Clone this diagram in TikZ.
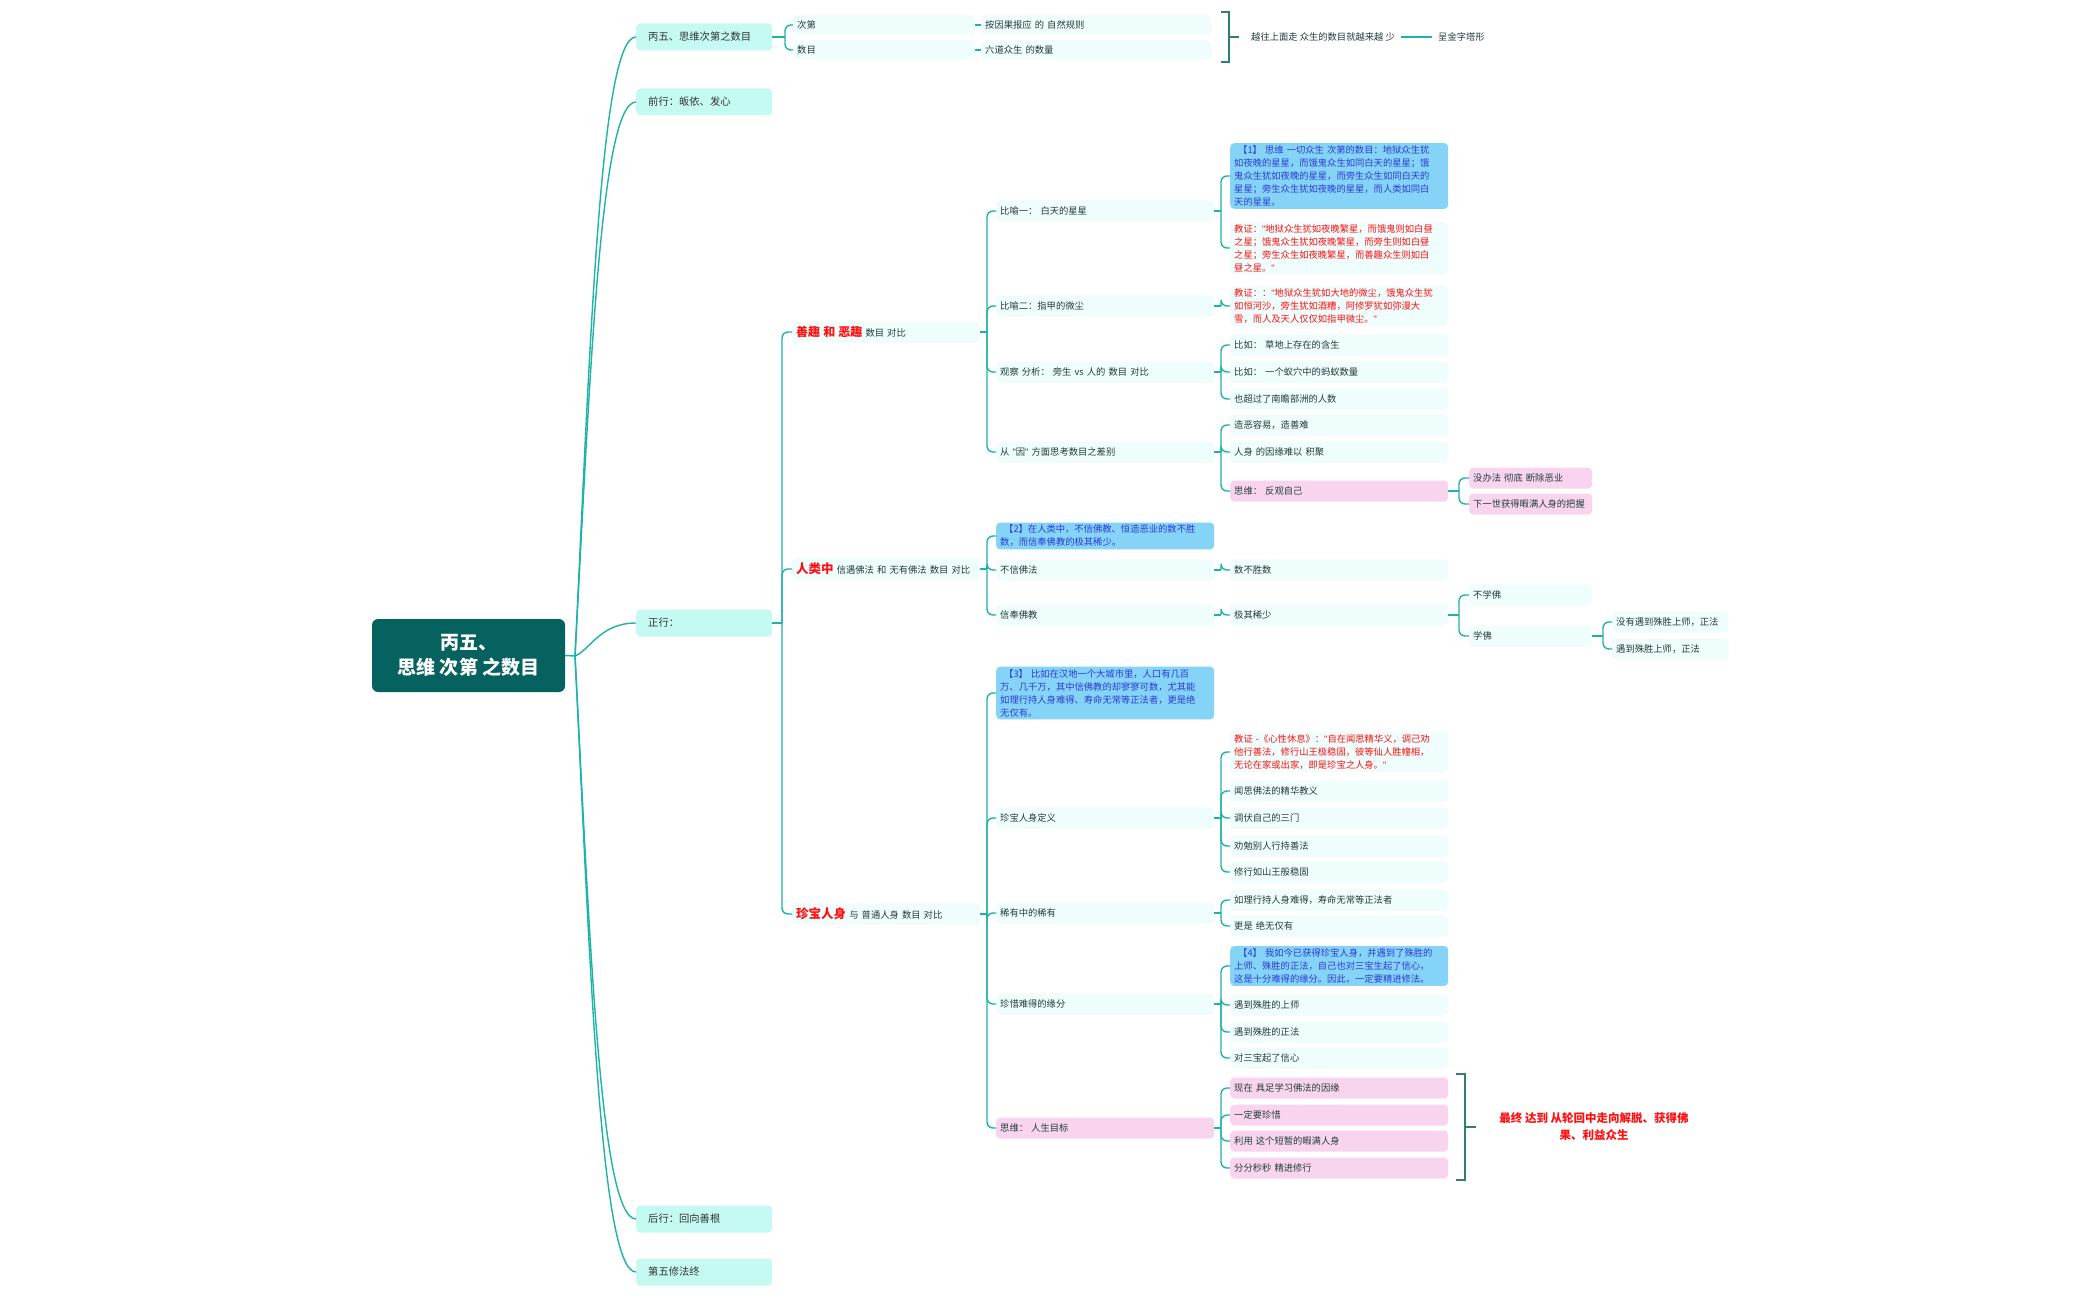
\documentclass[tikz,border=0pt]{standalone}
\usepackage{fontspec}
\setmainfont{Noto Sans CJK SC}
\newfontfamily\qf{Liberation Sans}
\usetikzlibrary{calc}
\definecolor{conn}{HTML}{1DB3A8}
\definecolor{brk}{HTML}{2F7F77}
\definecolor{rootc}{HTML}{06625E}
\definecolor{l1c}{HTML}{C5FAF3}
\definecolor{lc}{HTML}{EFFDFC}
\definecolor{bluec}{HTML}{86D3F8}
\definecolor{bluet}{HTML}{2A3BD8}
\definecolor{pinkc}{HTML}{F8D4EE}
\definecolor{txt}{HTML}{223D3B}
\definecolor{redt}{HTML}{FF1010}
\newcommand\myfs{\fontsize{9.3}{13}\selectfont}
\newcommand\nbx[1]{\mbox{#1}}
\newcommand\dq{{\qf"}}
\newcommand\redh[2][12]{{\color{redt}\bfseries\fontsize{#1}{14}\selectfont #2}}
\newcommand\kids[3]{\draw[cn,line width=1.8pt] (#1.east) -- (#1.east -| #2);
  \foreach \kk in {#3}{\draw[cn,rounded corners=6pt] (#1.east -| #2) |- (\kk.west);}}
\begin{document}
\begin{tikzpicture}[x=1pt,y=-1pt,
  cn/.style={draw=conn, line width=1.4pt},
  brkl/.style={draw=brk, line width=1.5pt},
  base/.style={anchor=west, align=left, text=txt, font=\myfs, rounded corners=4pt, inner xsep=4pt, inner ysep=2.5pt, minimum height=21pt},
  lt/.style={base, fill=lc},
  bl/.style={base, fill=bluec, text=bluet},
  rd/.style={base, fill=lc, text=redt},
  pk/.style={base, fill=pinkc},
  lone/.style={base, fill=l1c, minimum height=27pt, text width=112pt, inner xsep=12pt, font=\fontsize{10.3}{13}\selectfont, text=black!80},
  plain/.style={anchor=west, text=txt, font=\myfs, inner xsep=2pt}
]
\fill[white] (0,0) rectangle (2099,1300);
\useasboundingbox (0,0) rectangle (2099,1300);

% root
\node[fill=rootc, rounded corners=6pt, minimum width=193pt, minimum height=73pt, text=white, font=\bfseries\fontsize{19}{25}\selectfont, align=center] (root) at (468.5,655.5) {丙五、\\思维 次第 之数目};

% level 1
\node[lone] (a1) at (636,37) {\nbx{丙五、思维次第之数目}};
\node[lone] (a2) at (636,102) {\nbx{前行：皈依、发心}};
\node[lone] (a3) at (636,623) {\nbx{正行：}};
\node[lone] (a4) at (636,1219) {\nbx{后行：回向善根}};
\node[lone] (a5) at (636,1272) {\nbx{第五修法终}};

\coordinate (J) at (575,656);
\draw[cn] (root.east) -- (J);
\draw[cn] (J) .. controls (590,350) and (600,37) .. (a1.west);
\draw[cn] (J) .. controls (590,380) and (600,102) .. (a2.west);
\draw[cn] (J) .. controls (590,650) and (600,623) .. (a3.west);
\draw[cn] (J) .. controls (590,940) and (600,1219) .. (a4.west);
\draw[cn] (J) .. controls (590,960) and (600,1272) .. (a5.west);

\coordinate (vt) at (785,0);
\coordinate (v1) at (782,0);
\coordinate (v2) at (987,0);
\coordinate (v3) at (1221,0);
\coordinate (v4) at (1459,0);
\coordinate (v5) at (1603,0);

% top section
\node[lt, minimum height=19pt, text width=174pt] (b1) at (793,25) {\nbx{次第}};
\node[lt, minimum height=19pt, text width=174pt] (b2) at (793,50) {\nbx{数目}};
\node[lt, minimum height=19pt, text width=222pt] (c1) at (981,25) {\nbx{按因果报应 的 自然规则}};
\node[lt, minimum height=19pt, text width=222pt] (c2) at (981,50) {\nbx{六道众生 的数量}};
\kids{a1}{vt}{b1,b2}
\draw[cn] (b1.east) -- (c1.west);
\draw[cn] (b2.east) -- (c2.west);
\draw[brkl] (1221,12) -- (1229,12) -- (1229,62) -- (1221,62);
\draw[brkl] (1229,37) -- (1239,37);
\node[plain, inner xsep=6pt] (t1) at (1245,37) {越往上面走 众生的数目就越来越 少};
\node[plain, inner xsep=6pt] (t2) at (1432,37) {呈金字塔形};
\draw[cn] (t1.east) -- (t2.west);

% level 2 under 正行
\node[lt, text width=180pt] (d1) at (792,332) {\nbx{\redh{善趣 和 恶趣} 数目 对比}};
\node[lt, text width=180pt] (d2) at (792,569) {\nbx{\redh[12.5]{人类中} 信遇佛法 和 无有佛法 数目 对比}};
\node[lt, text width=180pt] (d3) at (792,914) {\nbx{\redh[12.5]{珍宝人身} 与 普通人身 数目 对比}};
\kids{a3}{v1}{d1,d2,d3}

% under 善趣
\node[lt, text width=210pt] (e1) at (996,211) {\nbx{比喻一： 白天的星星}};
\node[lt, text width=210pt] (e2) at (996,306) {\nbx{比喻二：指甲的微尘}};
\node[lt, text width=210pt] (e3) at (996,372) {\nbx{观察 分析： 旁生 vs 人的 数目 对比}};
\node[lt, text width=210pt] (e4) at (996,452) {\nbx{从 \dq 因\dq\ 方面思考数目之差别}};
\kids{d1}{v2}{e1,e2,e3,e4}

\node[bl, text width=210pt] (f1) at (1230,176) {\nbx{\hspace{4pt}【1】 思维 一切众生 次第的数目：地狱众生犹}\\\nbx{如夜晚的星星，而饿鬼众生如同白天的星星；饿}\\\nbx{鬼众生犹如夜晚的星星，而旁生众生如同白天的}\\\nbx{星星；旁生众生犹如夜晚的星星，而人类如同白}\\\nbx{天的星星。}};
\node[rd, text width=210pt] (f2) at (1230,248) {\nbx{教证：\dq 地狱众生犹如夜晚繁星，而饿鬼则如白昼}\\\nbx{之星；饿鬼众生犹如夜晚繁星，而旁生则如白昼}\\\nbx{之星；旁生众生如夜晚繁星，而善趣众生则如白}\\\nbx{昼之星。\dq}};
\kids{e1}{v3}{f1,f2}
\node[rd, text width=210pt] (f3) at (1230,306) {\nbx{教证：：\dq 地狱众生犹如大地的微尘，饿鬼众生犹}\\\nbx{如恒河沙，旁生犹如酒糟，阿修罗犹如弥漫大}\\\nbx{雪，而人及天人仅仅如指甲微尘。\dq}};
\kids{e2}{v3}{f3}
\node[lt, text width=210pt] (f4) at (1230,345) {\nbx{比如： 草地上存在的含生}};
\node[lt, text width=210pt] (f5) at (1230,372) {\nbx{比如： 一个蚁穴中的蚂蚁数量}};
\node[lt, text width=210pt] (f6) at (1230,399) {\nbx{也超过了南瞻部洲的人数}};
\kids{e3}{v3}{f4,f5,f6}
\node[lt, text width=210pt] (f7) at (1230,425) {\nbx{造恶容易，造善难}};
\node[lt, text width=210pt] (f8) at (1230,452) {\nbx{人身 的因缘难以 积聚}};
\node[pk, text width=210pt] (f9) at (1230,491) {\nbx{思维： 反观自己}};
\kids{e4}{v3}{f7,f8,f9}
\node[pk, text width=115pt] (g1) at (1469,478) {\nbx{没办法 彻底 断除恶业}};
\node[pk, text width=115pt] (g2) at (1469,504) {\nbx{下一世获得暇满人身的把握}};
\kids{f9}{v4}{g1,g2}

% under 人类中
\node[bl, text width=210pt] (e5) at (996,536) {\nbx{\hspace{4pt}【2】在人类中，不信佛教、恒造恶业的数不胜}\\\nbx{数，而信奉佛教的极其稀少。}};
\node[lt, text width=210pt] (e6) at (996,570) {\nbx{不信佛法}};
\node[lt, text width=210pt] (e7) at (996,615) {\nbx{信奉佛教}};
\kids{d2}{v2}{e5,e6,e7}
\node[lt, text width=210pt] (f10) at (1230,570) {\nbx{数不胜数}};
\kids{e6}{v3}{f10}
\node[lt, text width=210pt] (f11) at (1230,615) {\nbx{极其稀少}};
\kids{e7}{v3}{f11}
\node[lt, text width=115pt] (g3) at (1469,595) {\nbx{不学佛}};
\node[lt, text width=115pt] (g4) at (1469,636) {\nbx{学佛}};
\kids{f11}{v4}{g3,g4}
\node[lt, text width=108pt] (h1) at (1612,622) {\nbx{没有遇到殊胜上师，正法}};
\node[lt, text width=108pt] (h2) at (1612,649) {\nbx{遇到殊胜上师，正法}};
\kids{g4}{v5}{h1,h2}

% under 珍宝人身
\node[bl, text width=210pt] (e8) at (996,693) {\nbx{\hspace{4pt}【3】 比如在汉地一个大城市里，人口有几百}\\\nbx{万、几千万，其中信佛教的却寥寥可数，尤其能}\\\nbx{如理行持人身难得、寿命无常等正法者，更是绝}\\\nbx{无仅有。}};
\node[lt, text width=210pt] (e9) at (996,818) {\nbx{珍宝人身定义}};
\node[lt, text width=210pt] (e10) at (996,913) {\nbx{稀有中的稀有}};
\node[lt, text width=210pt] (e11) at (996,1004) {\nbx{珍惜难得的缘分}};
\node[pk, text width=210pt] (e12) at (996,1128) {\nbx{思维： 人生目标}};
\kids{d3}{v2}{e8,e9,e10,e11,e12}

\node[rd, text width=210pt] (f12) at (1230,752) {\nbx{教证 -《心性休息》：\dq 自在闻思精华义，调己劝}\\\nbx{他行善法，修行山王极稳固，彼等仙人胜幢相，}\\\nbx{无论在家或出家，即是珍宝之人身。\dq}};
\node[lt, text width=210pt] (f13) at (1230,791) {\nbx{闻思佛法的精华教义}};
\node[lt, text width=210pt] (f14) at (1230,818) {\nbx{调伏自己的三门}};
\node[lt, text width=210pt] (f15) at (1230,846) {\nbx{劝勉别人行持善法}};
\node[lt, text width=210pt] (f16) at (1230,872) {\nbx{修行如山王般稳固}};
\kids{e9}{v3}{f12,f13,f14,f15,f16}
\node[lt, text width=210pt] (f17) at (1230,900) {\nbx{如理行持人身难得，寿命无常等正法者}};
\node[lt, text width=210pt] (f18) at (1230,926) {\nbx{更是 绝无仅有}};
\kids{e10}{v3}{f17,f18}
\node[bl, text width=210pt] (f19) at (1230,966) {\nbx{\hspace{4pt}【4】 我如今已获得珍宝人身，并遇到了殊胜的}\\\nbx{上师、殊胜的正法，自己也对三宝生起了信心，}\\\nbx{这是十分难得的缘分。因此，一定要精进修法。}};
\node[lt, text width=210pt] (f20) at (1230,1005) {\nbx{遇到殊胜的上师}};
\node[lt, text width=210pt] (f21) at (1230,1032) {\nbx{遇到殊胜的正法}};
\node[lt, text width=210pt] (f22) at (1230,1058) {\nbx{对三宝起了信心}};
\kids{e11}{v3}{f19,f20,f21,f22}
\node[pk, text width=210pt] (f23) at (1230,1088) {\nbx{现在 具足学习佛法的因缘}};
\node[pk, text width=210pt] (f24) at (1230,1115) {\nbx{一定要珍惜}};
\node[pk, text width=210pt] (f25) at (1230,1141) {\nbx{利用 这个短暂的暇满人身}};
\node[pk, text width=210pt] (f26) at (1230,1168) {\nbx{分分秒秒 精进修行}};
\kids{e12}{v3}{f23,f24,f25,f26}

\draw[brkl] (1456,1074) -- (1465,1074) -- (1465,1180) -- (1456,1180);
\draw[brkl] (1465,1127) -- (1476,1127);
\node[text=redt, font=\bfseries\fontsize{11.5}{17}\selectfont, align=center] (goal) at (1594,1127) {最终 达到 从轮回中走向解脱、获得佛\\果、利益众生};
\end{tikzpicture}
\end{document}
